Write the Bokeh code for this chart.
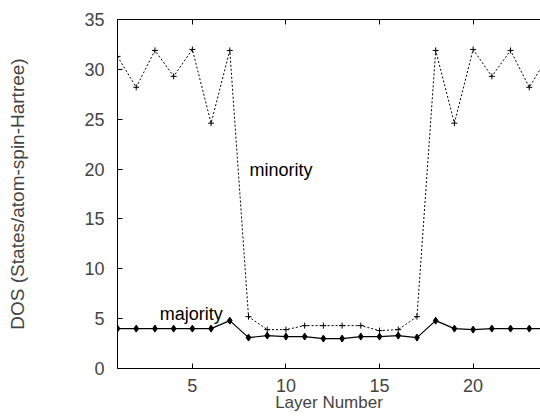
from bokeh.plotting import figure
from bokeh.models import Range1d, LinearAxis, Label, FixedTicker
from bokeh.embed import file_html
from bokeh.resources import INLINE

layers = list(range(1, 25))
minority = [31.3, 28.2, 31.9, 29.3, 32.0, 24.6, 31.9, 5.2, 3.9, 3.9, 4.3, 4.3,
            4.3, 4.3, 3.8, 3.9, 5.2, 31.9, 24.6, 32.0, 29.3, 31.9, 28.2, 31.3]
majority = [4.0, 4.0, 4.0, 4.0, 4.0, 4.0, 4.8, 3.1, 3.3, 3.2, 3.2, 3.0,
            3.0, 3.2, 3.2, 3.3, 3.1, 4.8, 4.0, 3.9, 4.0, 4.0, 4.0, 4.0]
x_ticks = [5, 10, 15, 20]
y_ticks = [0, 5, 10, 15, 20, 25, 30, 35]

FONT = "Liberation Sans"

p = figure(width=540, height=417, output_backend="svg", toolbar_location=None,
           x_range=Range1d(1, 23.6), y_range=Range1d(0, 35),
           min_border_left=117, min_border_right=0, min_border_top=19,
           min_border_bottom=49)
p.outline_line_color = None
p.xgrid.visible = False
p.ygrid.visible = False
p.background_fill_color = "white"
p.border_fill_color = "white"

for ax in p.xaxis:
    ax.ticker = FixedTicker(ticks=x_ticks)
    ax.major_tick_in = 5
    ax.major_tick_out = 0
    ax.minor_tick_line_color = None
    ax.major_label_text_font = FONT
    ax.major_label_text_font_size = "18px"
    ax.major_label_standoff = 10
    ax.axis_label = "Layer Number"
    ax.axis_label_text_font = FONT
    ax.axis_label_text_font_size = "17px"
    ax.axis_label_text_font_style = "normal"
    ax.axis_label_standoff = -2
    ax.axis_line_color = "black"
    ax.major_tick_line_color = "black"

for ax in p.yaxis:
    ax.ticker = FixedTicker(ticks=y_ticks)
    ax.major_tick_in = 5
    ax.major_tick_out = 0
    ax.minor_tick_line_color = None
    ax.major_label_text_font = FONT
    ax.major_label_text_font_size = "18px"
    ax.major_label_standoff = 13
    ax.axis_label = "DOS (States/atom-spin-Hartree)"
    ax.axis_label_text_font = FONT
    ax.axis_label_text_font_size = "19px"
    ax.axis_label_text_font_style = "normal"
    ax.axis_label_standoff = 53
    ax.axis_line_color = "black"
    ax.major_tick_line_color = "black"

top = LinearAxis(ticker=FixedTicker(ticks=x_ticks), major_tick_in=5, major_tick_out=0,
                 minor_tick_line_color=None, major_label_text_font_size="8px",
                 major_label_overrides={t: "" for t in x_ticks},
                 major_label_standoff=0, axis_line_color="black")
p.add_layout(top, "above")

p.line(layers, minority, line_color="black", line_width=1, line_dash="2 2")
p.scatter(layers, minority, marker="cross", size=6, line_color="black", line_width=1)
p.line(layers, majority, line_color="black", line_width=1.2)
p.scatter(layers, majority, marker="diamond", size=7, fill_color="black", line_color="black")

p.add_layout(Label(x=8.05, y=19.9, text="minority", text_font=FONT, text_font_size="18px",
                   text_baseline="alphabetic", text_align="left", text_color="black"))
p.add_layout(Label(x=3.26, y=5.5, text="majority", text_font=FONT, text_font_size="18px",
                   text_baseline="alphabetic", text_align="left", text_color="black"))

open("out.html", "w").write(file_html(p, INLINE))
